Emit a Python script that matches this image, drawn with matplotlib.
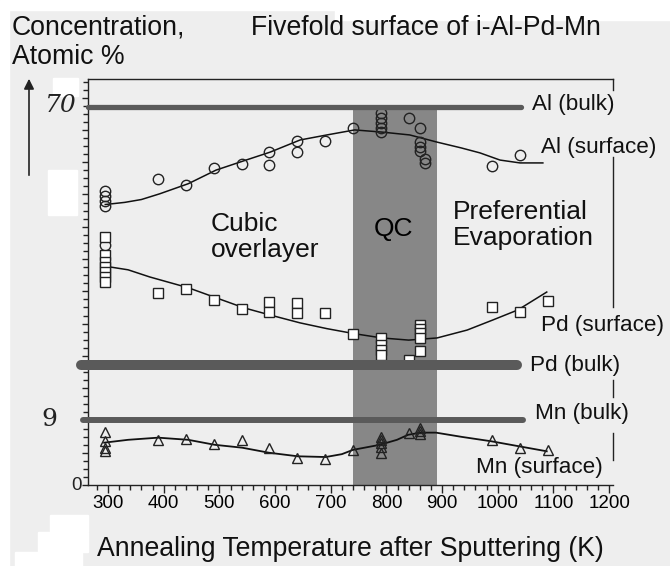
import matplotlib.pyplot as plt
from matplotlib.patches import Rectangle, FancyArrowPatch
from matplotlib.ticker import MultipleLocator

plt.rcParams['font.family'] = ['Liberation Sans', 'DejaVu Sans']

# annealing temperature (K) vs concentration
# y is in the plot's own units: 0 on the x axis, 9 at the Mn bulk line
al_T = [295] * 5 + [390, 440, 490, 540, 590, 590, 640, 640, 690, 740] + [790] * 5 + [840] + [860] * 4 + [870, 870, 990, 1040]
al_c = [41.0, 40.3, 39.6, 38.9, 33.5, 42.7, 41.8, 44.2, 44.8, 46.4, 44.6, 48.0, 46.4, 48.0, 49.8,
        51.9, 51.2, 50.5, 49.8, 49.2, 51.2, 49.8, 47.8, 47.1, 46.6, 45.5, 44.9, 44.5, 46.0]

pd_T = [295] * 7 + [390, 440, 490, 540, 590, 590, 640, 640, 690, 740] + [790] * 4 + [840] + [860] * 5 + [990, 1040, 1090]
pd_c = [34.6, 32.1, 31.1, 30.4, 29.7, 29.0, 28.3, 26.8, 27.3, 25.8, 24.5, 25.5, 24.1, 25.4, 24.0, 24.0, 21.1,
        20.5, 19.5, 18.8, 18.1, 17.4, 22.3, 21.8, 21.2, 20.5, 18.7, 24.8, 24.1, 25.7]

mn_T = [295] * 4 + [390, 440, 490, 540, 590, 640, 690, 740] + [790] * 5 + [840] + [860] * 3 + [990, 1040, 1090]
mn_c = [7.4, 6.1, 5.2, 4.7, 6.3, 6.4, 5.7, 6.3, 5.2, 3.8, 3.6, 4.9, 6.7, 6.3, 5.9, 5.3, 4.5, 7.3,
        7.9, 7.5, 7.1, 6.3, 5.2, 4.9]

# hand drawn guide curves
al_fit_T = [295, 330, 360, 393, 444, 494, 544, 591, 645, 693, 743, 792, 842, 891, 934, 968, 1004, 1040, 1081]
al_fit_c = [39.1, 39.4, 39.8, 40.6, 42.0, 43.9, 45.2, 46.4, 48.1, 48.8, 49.5, 49.2, 48.8, 47.8, 47.0, 46.3, 45.3, 44.9, 44.9]
pd_fit_T = [295, 336, 375, 444, 494, 544, 591, 645, 693, 742, 792, 840, 891, 945, 991, 1036, 1088]
pd_fit_c = [30.5, 30.0, 29.0, 27.5, 26.1, 24.7, 23.7, 22.6, 21.8, 21.1, 20.5, 20.2, 20.5, 21.6, 23.0, 24.4, 26.9]
mn_fit_T = [293, 336, 390, 444, 492, 541, 589, 641, 691, 720, 740, 788, 819, 839, 862, 889, 936, 988, 1038, 1088]
mn_fit_c = [5.9, 6.3, 6.6, 6.3, 5.6, 5.2, 4.5, 4.0, 3.9, 4.3, 4.9, 5.6, 6.3, 7.0, 7.3, 7.3, 6.7, 6.1, 5.4, 4.7]

# bulk composition bars
bulk_labels = ['Al (bulk)', 'Pd (bulk)', 'Mn (bulk)']
bulk_level = [52.7, 16.7, 9.0]
bulk_start = [264, 252, 255]
bulk_end = [1041, 1034, 1045]
bulk_width = [3.8, 7.2, 4.3]

qc_T = [740, 890]

W, H = 670, 566
fig = plt.figure(figsize=(W / 100, H / 100), dpi=100, facecolor='#eeeeee')


def fx(px):
    return px / W


def fy(py):
    return 1 - py / H


# white scan patches
for x0, y0, x1, y1 in [(0, 0, 670, 10), (335, 0, 670, 20), (0, 0, 9, 566), (53, 78, 78, 96),
                       (48, 170, 77, 215), (50, 515, 88, 532), (38, 532, 88, 552), (15, 552, 82, 566)]:
    fig.patches.append(Rectangle((fx(x0), fy(y1)), fx(x1) - fx(x0), fy(y0) - fy(y1),
                                 transform=fig.transFigure, color='white', zorder=0))

ax = fig.add_axes([fx(88), fy(485), fx(613) - fx(88), fy(79) - fy(485)])
ax.set_facecolor('none')
ax.set_xlim(264, 1207)
ax.set_ylim(0, 56.6)

ax.fill_between(qc_T, 0, bulk_level[0], color='#878787', lw=0, zorder=1)

for lab, lev, x0, x1, lw in zip(bulk_labels, bulk_level, bulk_start, bulk_end, bulk_width):
    ax.plot([x0, x1], [lev, lev], color='#5a5a5a', lw=lw, solid_capstyle='round',
            clip_on=False, zorder=4)

ax.plot(al_fit_T, al_fit_c, color='#111111', lw=1.1, zorder=2)
ax.plot(pd_fit_T, pd_fit_c, color='#111111', lw=1.1, zorder=2)
ax.plot(mn_fit_T, mn_fit_c, color='#111111', lw=1.3, zorder=2)

ax.plot(al_T, al_c, 'o', ms=7.5, mfc='none', mec='#222222', mew=1.0, zorder=3)
ax.plot(pd_T, pd_c, 's', ms=7, mfc='white', mec='#222222', mew=1.0, zorder=3)
ax.plot(mn_T, mn_c, '^', ms=7, mfc='none', mec='#222222', mew=1.0, zorder=3)

# spines and ticks
for s in ['left', 'bottom', 'top']:
    ax.spines[s].set_linewidth(1.0)
    ax.spines[s].set_color('#222222')
ax.spines['right'].set_visible(False)
for y0, y1 in [(0.973, 1.0), (0.438, 0.808), (0.217, 0.259), (0.062, 0.128)]:
    ax.plot([1, 1], [y0, y1], transform=ax.transAxes, color='#222222', lw=1.0, clip_on=False)

ax.set_xticks(range(300, 1201, 100))
ax.xaxis.set_minor_locator(MultipleLocator(20))
ax.tick_params(axis='x', which='major', direction='out', length=6, width=1.0, pad=1,
               labelsize=13.5, color='#222222')
ax.tick_params(axis='x', which='minor', direction='out', length=3.5, width=1.0, color='#222222')
ax.yaxis.set_major_locator(MultipleLocator(1.125 * 4))
ax.yaxis.set_minor_locator(MultipleLocator(1.125))
ax.set_yticklabels([])
ax.tick_params(axis='y', which='major', direction='out', length=4.5, width=1.0, color='#222222')
ax.tick_params(axis='y', which='minor', direction='out', length=3.5, width=1.0, color='#222222')

# labels next to the lines
txt = dict(fontsize=16.2, va='center', ha='left', color='#111111')
ax.text(1061, 53.0, 'Al (bulk)', clip_on=False, **txt)
ax.text(1078, 47.1, 'Al (surface)', clip_on=False, **txt)
ax.text(1078, 22.3, 'Pd (surface)', clip_on=False, **txt)
ax.text(1058, 16.7, 'Pd (bulk)', clip_on=False, **txt)
ax.text(1067, 10.0, 'Mn (bulk)', clip_on=False, **txt)
ax.text(961, 2.5, 'Mn (surface)', clip_on=False, **txt)
ax.text(485, 34.6, 'Cubic\noverlayer', fontsize=19, va='center', ha='left',
        linespacing=1.1, color='#111111')
ax.text(812, 35.7, 'QC', fontsize=19, va='center', ha='center', color='black')
ax.text(919, 36.3, 'Preferential\nEvaporation', fontsize=19, va='center', ha='left',
        linespacing=1.1, color='#111111')

# handwritten axis values
fig.text(fx(77), fy(106), '70', fontsize=18, style='italic', family='DejaVu Serif',
         ha='right', va='center', color='#222222')
fig.text(fx(49), fy(420), '9', fontsize=18, family='DejaVu Serif', ha='center', va='center',
         color='#222222')
fig.text(fx(76), fy(485), '0', fontsize=13.5, ha='center', va='center', color='#222222')

fig.text(fx(12), fy(28), 'Concentration,', fontsize=19.2, ha='left', va='center', color='#111111')
fig.text(fx(12), fy(57), 'Atomic %', fontsize=19.2, ha='left', va='center', color='#111111')
fig.text(fx(426), fy(28), 'Fivefold surface of i-Al-Pd-Mn', fontsize=19.2, ha='center',
         va='center', color='#111111')
fig.text(fx(350), fy(549), 'Annealing Temperature after Sputtering (K)', fontsize=19.2,
         ha='center', va='center', color='#111111')

fig.patches.append(FancyArrowPatch(
    (fx(29), fy(178)), (fx(29), fy(76)), transform=fig.transFigure,
    arrowstyle='-|>,head_length=6,head_width=3', color='#222222', lw=1.2))

fig.savefig('out.png', dpi=100, facecolor=fig.get_facecolor())
